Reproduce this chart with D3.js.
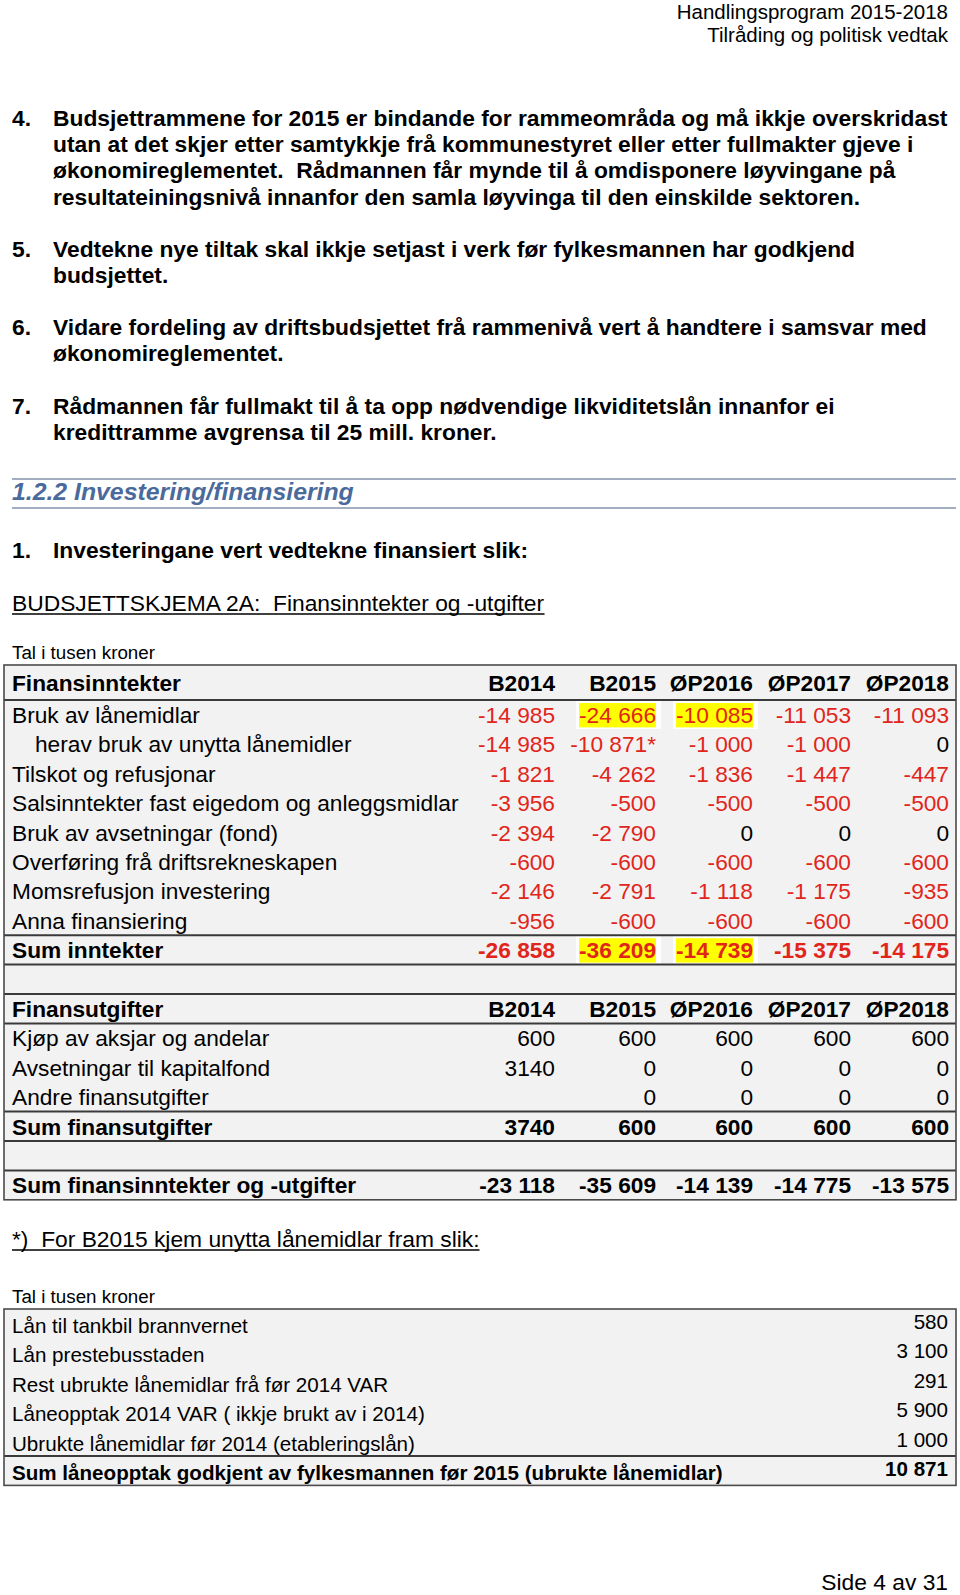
<!DOCTYPE html>
<html>
<head>
<meta charset="utf-8">
<script src="https://cdn.jsdelivr.net/npm/d3@7"></script>
<style>
  html, body { margin: 0; padding: 0; background: #fff; }
  svg { display: block; }
  text { font-family: "Liberation Sans", Arial, sans-serif; }
</style>
</head>
<body>
<svg id="page"></svg>
<script>
//
// Data
//

// budget columns
const columns = ["B2014", "B2015", "ØP2016", "ØP2017", "ØP2018"];

// finansinntekter (tusen kroner)
const incomeLabels = [
  "Bruk av lånemidlar",
  "herav bruk av unytta lånemidler",
  "Tilskot og refusjonar",
  "Salsinntekter fast eigedom og anleggsmidlar",
  "Bruk av avsetningar (fond)",
  "Overføring frå driftsrekneskapen",
  "Momsrefusjon investering",
  "Anna finansiering"
];
const incomeValues = [
  [-14985, -24666, -10085, -11053, -11093],
  [-14985, -10871, -1000, -1000, 0],
  [-1821, -4262, -1836, -1447, -447],
  [-3956, -500, -500, -500, -500],
  [-2394, -2790, 0, 0, 0],
  [-600, -600, -600, -600, -600],
  [-2146, -2791, -1118, -1175, -935],
  [-956, -600, -600, -600, -600]
];
const incomeSum = [-26858, -36209, -14739, -15375, -14175];

// finansutgifter
const expenseLabels = [
  "Kjøp av aksjar og andelar",
  "Avsetningar til kapitalfond",
  "Andre finansutgifter"
];
const expenseValues = [
  [600, 600, 600, 600, 600],
  [3140, 0, 0, 0, 0],
  [null, 0, 0, 0, 0]
];
const expenseSum = [3740, 600, 600, 600, 600];
const netSum = [-23118, -35609, -14139, -14775, -13575];

// unytta lånemidlar B2015
const loanLabels = [
  "Lån til tankbil brannvernet",
  "Lån prestebusstaden",
  "Rest ubrukte lånemidlar frå før 2014 VAR",
  "Låneopptak 2014 VAR ( ikkje brukt av i 2014)",
  "Ubrukte lånemidlar før 2014 (etableringslån)"
];
const loanValues = [580, 3100, 291, 5900, 1000];
const loanSum = 10871;

// cells marked in the source: [row, column]
const highlighted = [["Bruk av lånemidlar", "B2015"], ["Bruk av lånemidlar", "ØP2016"],
                     ["Sum inntekter", "B2015"], ["Sum inntekter", "ØP2016"]];
const starred = [["herav bruk av unytta lånemidler", "B2015"]];

//
// Page set-up
//

const W = 960, H = 1595;
const red = "#e1251b";
const fontSize = 22.8;

const svg = d3.select("#page").attr("width", W).attr("height", H);
svg.append("rect").attr("width", W).attr("height", H).attr("fill", "#fff");

const no = d3.formatLocale({ decimal: ",", thousands: "\u00a0", grouping: [3], currency: ["", " kr"], minus: "-" });
const grouped = no.format(",d");
const plain = d3.format("d");

function txt(x, y, s, opts) {
  opts = opts || {};
  return svg.append("text")
    .attr("x", x).attr("y", y)
    .attr("font-size", opts.size || fontSize)
    .attr("font-weight", opts.bold ? "bold" : null)
    .attr("font-style", opts.italic ? "italic" : null)
    .attr("text-anchor", opts.anchor || "start")
    .attr("fill", opts.color || "#000")
    .style("white-space", "pre")
    .text(s);
}

function underline(sel, y) {
  const b = sel.node().getBBox();
  svg.append("line").attr("x1", b.x).attr("x2", b.x + b.width)
    .attr("y1", y).attr("y2", y).attr("stroke", "#000").attr("stroke-width", 1.3);
}

// page header
txt(948, 19, "Handlingsprogram 2015-2018", { anchor: "end", size: 20.5 });
txt(948, 42, "Tilråding og politisk vedtak", { anchor: "end", size: 20.5 });

// numbered paragraphs
const paragraphs = [
  { n: "4.", y: 126, lines: [
    "Budsjettrammene for 2015 er bindande for rammeområda og må ikkje overskridast",
    "utan at det skjer etter samtykkje frå kommunestyret eller etter fullmakter gjeve i",
    "økonomireglementet.  Rådmannen får mynde til å omdisponere løyvingane på",
    "resultateiningsnivå innanfor den samla løyvinga til den einskilde sektoren."] },
  { n: "5.", y: 257, lines: [
    "Vedtekne nye tiltak skal ikkje setjast i verk før fylkesmannen har godkjend",
    "budsjettet."] },
  { n: "6.", y: 335, lines: [
    "Vidare fordeling av driftsbudsjettet frå rammenivå vert å handtere i samsvar med",
    "økonomireglementet."] },
  { n: "7.", y: 414, lines: [
    "Rådmannen får fullmakt til å ta opp nødvendige likviditetslån innanfor ei",
    "kredittramme avgrensa til 25 mill. kroner."] }
];
paragraphs.forEach(function(p) {
  txt(12, p.y, p.n, { bold: true });
  p.lines.forEach(function(l, i) { txt(53, p.y + i * 26.2, l, { bold: true }); });
});

// section heading
[479, 508].forEach(function(y) {
  svg.append("line").attr("x1", 12).attr("x2", 956).attr("y1", y).attr("y2", y)
    .attr("stroke", "#8393ab").attr("stroke-width", 1.6);
});
txt(12, 500, "1.2.2 Investering/finansiering", { bold: true, italic: true, size: 24.8, color: "#4a6a9c" });

txt(12, 558, "1.", { bold: true });
txt(53, 558, "Investeringane vert vedtekne finansiert slik:", { bold: true });

underline(txt(12, 611, "BUDSJETTSKJEMA 2A:  Finansinntekter og -utgifter"), 614);
txt(12, 659, "Tal i tusen kroner", { size: 18.8 });

//
// Table 1
//

const left = 4, right = 956;
const x = d3.scaleOrdinal().domain(columns).range([555, 656, 753, 851, 949]);
const headTop = 665, headBottom = 700;
const row = d3.scaleLinear().domain([0, 1]).range([headBottom, headBottom + 29.4]);
const rowH = row(1) - row(0);
const tableFont = 22.7;

const rows = [];
incomeLabels.forEach(function(l, i) {
  rows.push({ label: l, values: incomeValues[i], indent: i === 1, red: true });
});
rows.push({ label: "Sum inntekter", values: incomeSum, bold: true, red: true });
rows.push({ label: "" });
rows.push({ label: "Finansutgifter", values: columns, bold: true, head: true });
expenseLabels.forEach(function(l, i) {
  rows.push({ label: l, values: expenseValues[i], plainFirst: true });
});
rows.push({ label: "Sum finansutgifter", values: expenseSum, bold: true, plainFirst: true });
rows.push({ label: "" });
rows.push({ label: "Sum finansinntekter og -utgifter", values: netSum, bold: true });

const tableBottom = row(rows.length);
svg.append("rect").attr("x", left).attr("y", headTop)
  .attr("width", right - left).attr("height", tableBottom - headTop).attr("fill", "#f2f2f2");

// white cells for highlighted entries
const cellLayer = svg.append("g");

// header
txt(12, headTop + 26, "Finansinntekter", { bold: true, size: tableFont });
columns.forEach(function(c) { txt(x(c), headTop + 26, c, { bold: true, anchor: "end", size: tableFont }); });

rows.forEach(function(r, i) {
  const base = row(i) + 23;
  if (r.label) txt(r.indent ? 35 : 12, base, r.label, { bold: r.bold, size: tableFont });
  if (!r.values) return;
  r.values.forEach(function(v, j) {
    if (v === null) return;
    const col = columns[j];
    let s, color = "#000";
    if (r.head) {
      s = v;
    } else {
      s = (r.plainFirst && j === 0) ? plain(v) : grouped(v);
      if (r.red && v !== 0) color = red;
      if (starred.some(function(a) { return a[0] === r.label && a[1] === col; })) s += "*";
    }
    const isHi = highlighted.some(function(a) { return a[0] === r.label && a[1] === col; });
    const t = txt(x(col), base, s, { bold: r.bold, anchor: "end", color: color, size: tableFont });
    if (isHi) {
      const b = t.node().getBBox();
      cellLayer.append("rect").attr("x", b.x - 3).attr("y", row(i) + 0.5)
        .attr("width", b.width + 8).attr("height", rowH - 1).attr("fill", "#fff");
      cellLayer.append("rect").attr("x", b.x).attr("y", row(i) + 3)
        .attr("width", b.width).attr("height", rowH - 5).attr("fill", "#ffff00");
    }
  });
});

// rules
const ruleRows = [8, 9, 10, 11, 14, 15, 16];
svg.append("line").attr("x1", left).attr("x2", right).attr("y1", headBottom).attr("y2", headBottom)
  .attr("stroke", "#3a3a3a").attr("stroke-width", 2);
ruleRows.forEach(function(i) {
  svg.append("line").attr("x1", left).attr("x2", right).attr("y1", row(i)).attr("y2", row(i))
    .attr("stroke", "#3a3a3a").attr("stroke-width", 2);
});
svg.append("rect").attr("x", left).attr("y", headTop)
  .attr("width", right - left).attr("height", tableBottom - headTop)
  .attr("fill", "none").attr("stroke", "#4a4a4a").attr("stroke-width", 1.6);

//
// Footnote table
//

underline(txt(12, 1247, "*)  For B2015 kjem unytta lånemidlar fram slik:"), 1250);
txt(12, 1303, "Tal i tusen kroner", { size: 18.8 });

const t2Top = 1309;
const t2Font = 20.6;
const row2 = d3.scaleLinear().domain([0, 1]).range([t2Top, t2Top + 29.4]);
const t2Bottom = row2(loanLabels.length + 1);
svg.append("rect").attr("x", left).attr("y", t2Top)
  .attr("width", right - left).attr("height", t2Bottom - t2Top).attr("fill", "#f2f2f2");

loanLabels.forEach(function(l, i) {
  txt(12, row2(i) + 24, l, { size: t2Font });
  txt(948, row2(i) + 20, grouped(loanValues[i]), { anchor: "end", size: t2Font });
});
const last = loanLabels.length;
txt(12, row2(last) + 24, "Sum låneopptak godkjent av fylkesmannen før 2015 (ubrukte lånemidlar)", { bold: true, size: t2Font });
txt(948, row2(last) + 20, grouped(loanSum), { anchor: "end", bold: true, size: t2Font });

svg.append("line").attr("x1", left).attr("x2", right).attr("y1", row2(last)).attr("y2", row2(last))
  .attr("stroke", "#3a3a3a").attr("stroke-width", 2);
svg.append("rect").attr("x", left).attr("y", t2Top)
  .attr("width", right - left).attr("height", t2Bottom - t2Top)
  .attr("fill", "none").attr("stroke", "#4a4a4a").attr("stroke-width", 1.6);

// footer
txt(948, 1590, "Side 4 av 31", { anchor: "end" });
</script>
</body>
</html>
